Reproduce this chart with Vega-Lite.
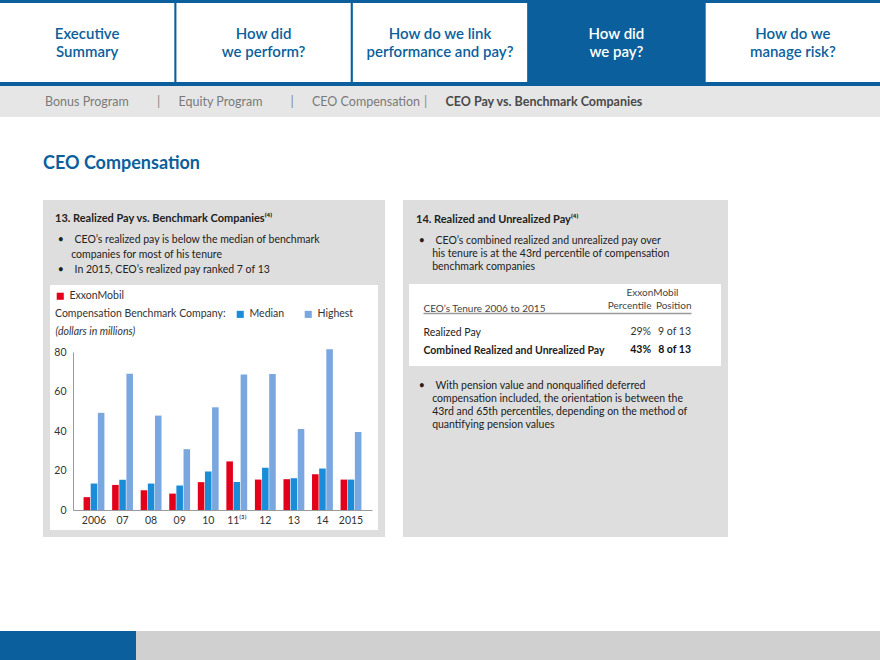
{
 "$schema": "https://vega.github.io/schema/vega-lite/v6.json",
 "background": "#ffffff",
 "padding": 0,
 "spacing": 0,
 "config": {
  "font": "Lato",
  "view": {"stroke": null},
  "concat": {"spacing": 0},
  "title": {"font": "Lato", "color": "#222222", "subtitleFont": "Lato", "subtitleColor": "#222222"},
  "axis": {"labelFont": "Lato", "titleFont": "Lato"},
  "legend": {"labelFont": "Lato", "titleFont": "Lato"}
 },
 "datasets": {
  "tabs": [
   {"tab": "Executive\nSummary", "active": false},
   {"tab": "How did\nwe perform?", "active": false},
   {"tab": "How do we link\nperformance and pay?", "active": false},
   {"tab": "How did\nwe pay?", "active": true},
   {"tab": "How do we\nmanage risk?", "active": false}
  ],
  "subnav": [
   {"item": "Bonus Program", "current": false},
   {"item": "Equity Program", "current": false},
   {"item": "CEO Compensation", "current": false},
   {"item": "CEO Pay vs. Benchmark Companies", "current": true}
  ],
  "pay": [
   {"year": 2006, "series": "ExxonMobil", "value": 6.5},
   {"year": 2006, "series": "Median", "value": 13.4},
   {"year": 2006, "series": "Highest", "value": 49.2},
   {"year": 2007, "series": "ExxonMobil", "value": 12.7},
   {"year": 2007, "series": "Median", "value": 15.3},
   {"year": 2007, "series": "Highest", "value": 69.0},
   {"year": 2008, "series": "ExxonMobil", "value": 10.0},
   {"year": 2008, "series": "Median", "value": 13.4},
   {"year": 2008, "series": "Highest", "value": 47.8},
   {"year": 2009, "series": "ExxonMobil", "value": 8.3},
   {"year": 2009, "series": "Median", "value": 12.4},
   {"year": 2009, "series": "Highest", "value": 30.8},
   {"year": 2010, "series": "ExxonMobil", "value": 14.1},
   {"year": 2010, "series": "Median", "value": 19.5},
   {"year": 2010, "series": "Highest", "value": 52.0},
   {"year": 2011, "series": "ExxonMobil", "value": 24.6},
   {"year": 2011, "series": "Median", "value": 14.2},
   {"year": 2011, "series": "Highest", "value": 68.6},
   {"year": 2012, "series": "ExxonMobil", "value": 15.4},
   {"year": 2012, "series": "Median", "value": 21.4},
   {"year": 2012, "series": "Highest", "value": 68.8},
   {"year": 2013, "series": "ExxonMobil", "value": 15.6},
   {"year": 2013, "series": "Median", "value": 16.1},
   {"year": 2013, "series": "Highest", "value": 41.0},
   {"year": 2014, "series": "ExxonMobil", "value": 18.1},
   {"year": 2014, "series": "Median", "value": 21.0},
   {"year": 2014, "series": "Highest", "value": 81.4},
   {"year": 2015, "series": "ExxonMobil", "value": 15.4},
   {"year": 2015, "series": "Median", "value": 15.4},
   {"year": 2015, "series": "Highest", "value": 39.5}
  ],
  "table": [
   {"measure": "Realized Pay", "column": "Percentile", "value": "29%", "combined": false},
   {"measure": "Realized Pay", "column": "Position", "value": "9 of 13", "combined": false},
   {"measure": "Combined Realized and Unrealized Pay", "column": "Percentile", "value": "43%", "combined": true},
   {"measure": "Combined Realized and Unrealized Pay", "column": "Position", "value": "8 of 13", "combined": true}
  ]
 },
 "vconcat": [
  {"width": 880, "height": 3, "view": {"fill": "#0b5f9c"}, "data": {"values": []}, "mark": "rect"},
  {
   "width": 880, "height": 79,
   "view": {"fill": "#0b5f9c"},
   "data": {"name": "tabs"},
   "encoding": {"x": {"field": "tab", "type": "nominal", "sort": null, "axis": null, "scale": {"paddingInner": 0.012, "paddingOuter": 0}}},
   "layer": [
    {"mark": {"type": "rect"}, "encoding": {"color": {"condition": {"test": "datum.active", "value": "#0b5f9c"}, "value": "#ffffff"}}},
    {"mark": {"type": "text", "lineBreak": "\n", "fontSize": 15, "fontWeight": 600, "lineHeight": 18, "baseline": "middle", "dy": -9},
     "encoding": {"text": {"field": "tab"}, "color": {"condition": {"test": "datum.active", "value": "#ffffff"}, "value": "#0b5f9c"}}}
   ]
  },
  {"width": 880, "height": 4, "view": {"fill": "#0b5f9c"}, "data": {"values": []}, "mark": "rect"},
  {
   "width": 880, "height": 31,
   "view": {"fill": "#e6e6e6"},
   "data": {"name": "subnav"},
   "encoding": {"x": {"field": "item", "type": "nominal", "sort": null, "axis": null, "scale": {"range": [-21.75, 512.25], "paddingInner": 0, "paddingOuter": 0}}},
   "layer": [
    {"transform": [{"filter": "!datum.current"}], "mark": {"type": "text", "align": "left", "baseline": "middle", "fontSize": 12.5, "color": "#7a7a7a"}, "encoding": {"text": {"field": "item"}}},
    {"transform": [{"filter": "datum.current"}], "mark": {"type": "text", "align": "left", "baseline": "middle", "fontSize": 12.5, "fontWeight": "bold", "color": "#4a4a4a"}, "encoding": {"text": {"field": "item"}}},
    {"transform": [{"filter": "datum.item != 'Bonus Program'"}], "mark": {"type": "text", "align": "center", "baseline": "middle", "fontSize": 13, "dx": -20, "color": "#8a8a8a"}, "encoding": {"text": {"value": "|"}}}
   ]
  },
  {"width": 880, "height": 38, "data": {"values": []}, "mark": "rect"},
  {
   "title": {"text": "CEO Compensation", "anchor": "start", "dx": 43, "fontSize": 18, "fontWeight": "bold", "color": "#0b5f9c", "offset": 27, "baseline": "top"},
   "spacing": 18,
   "hconcat": [
    {"width": 25, "height": 1, "data": {"values": []}, "mark": "rect"},
    {
     "spacing": 0,
     "vconcat": [
      {
       "width": 342, "height": 85, "view": {"fill": "#dedede"}, "data": {"values": []}, "mark": "rect",
       "title": {
        "text": "13. Realized Pay vs. Benchmark Companies⁽⁴⁾",
        "subtitle": [
         "\u200b\u00a0•\u00a0\u00a0\u00a0\u00a0CEO’s realized pay is below the median of benchmark",
         "\u200b\u00a0\u00a0\u00a0\u00a0\u00a0\u00a0companies for most of his tenure",
         "\u200b\u00a0•\u00a0\u00a0\u00a0\u00a0In 2015, CEO’s realized pay ranked 7 of 13"
        ],
        "anchor": "start", "dx": 12, "offset": -75, "fontSize": 11, "fontWeight": "bold",
        "subtitleFontSize": 10.5, "subtitlePadding": 11, "subtitleLineHeight": 15
       }
      },
      {
       "spacing": 0,
       "hconcat": [
        {"width": 7, "height": 245, "view": {"fill": "#dedede"}, "data": {"values": []}, "mark": "rect"},
        {
         "width": 328, "height": 245,
         "view": {"fill": "#ffffff"},
         "data": {"name": "pay"},
         "encoding": {
          "x": {"field": "year", "type": "ordinal",
           "scale": {"range": [23, 322], "paddingInner": 0.27, "paddingOuter": 0.37},
           "axis": {"orient": "bottom", "offset": -20, "ticks": false, "labelPadding": 5, "domainColor": "#9a9a9a", "labelAngle": 0, "title": null, "labelFontSize": 10.5, "labelColor": "#333333",
            "labelExpr": "datum.value == 2011 ? '11⁽³⁾' : ((datum.value == 2006 || datum.value == 2015) ? datum.label : substring(datum.label, 2))"}},
          "xOffset": {"field": "series", "type": "nominal", "scale": {"domain": ["ExxonMobil", "Median", "Highest"], "paddingInner": 0.08}},
          "y": {"field": "value", "type": "quantitative",
           "scale": {"domain": [0, 80], "nice": false, "range": [225, 67]},
           "axis": {"values": [0, 20, 40, 60, 80], "offset": -23, "ticks": false, "labelPadding": 7, "domainColor": "#9a9a9a", "grid": false, "labelColor": "#333333", "labelFontSize": 10.5,
            "title": "(dollars in millions)", "titleAngle": 0, "titleAlign": "left", "titleBaseline": "middle", "titleX": -18, "titleY": 46, "titleFontStyle": "italic", "titleFontWeight": "normal", "titleFontSize": 10.5, "titleColor": "#333333"}}
         },
         "layer": [
          {"transform": [{"filter": "datum.series == 'ExxonMobil'"}], "mark": "bar",
           "encoding": {"color": {"field": "series", "type": "nominal", "scale": {"domain": ["ExxonMobil"], "range": ["#e3001b"]},
            "legend": {"title": null, "orient": "none", "legendX": 5, "legendY": 6, "symbolType": "square", "symbolSize": 50, "symbolStrokeWidth": 0, "labelFontSize": 10.5, "labelColor": "#333333", "labelOffset": 4, "padding": 0}}}},
          {"transform": [{"filter": "datum.series != 'ExxonMobil'"}], "mark": "bar",
           "encoding": {"color": {"field": "series", "type": "nominal", "scale": {"domain": ["Median", "Highest"], "range": ["#1a8cd8", "#7aa7e0"]},
            "legend": {"title": "Compensation Benchmark Company:", "orient": "none", "legendX": 5, "legendY": 24, "direction": "horizontal", "titleOrient": "left", "titleFontWeight": "normal", "titleFontSize": 10.5, "titleColor": "#333333", "titlePadding": 9, "symbolType": "square", "symbolSize": 50, "symbolStrokeWidth": 0, "columnPadding": 18, "labelOffset": 4, "labelFontSize": 10.5, "labelColor": "#333333", "padding": 0}}}}
         ],
         "resolve": {"scale": {"color": "independent"}, "legend": {"color": "independent"}}
        },
        {"width": 7, "height": 245, "view": {"fill": "#dedede"}, "data": {"values": []}, "mark": "rect"}
       ]
      },
      {"width": 342, "height": 7, "view": {"fill": "#dedede"}, "data": {"values": []}, "mark": "rect"}
     ]
    },
    {
     "spacing": 0,
     "vconcat": [
      {
       "width": 325, "height": 84, "view": {"fill": "#dedede"}, "data": {"values": []}, "mark": "rect",
       "title": {
        "text": "14. Realized and Unrealized Pay⁽⁴⁾",
        "subtitle": [
         "\u200b\u00a0•\u00a0\u00a0\u00a0\u00a0CEO’s combined realized and unrealized pay over",
         "\u200b\u00a0\u00a0\u00a0\u00a0\u00a0\u00a0his tenure is at the 43rd percentile of compensation",
         "\u200b\u00a0\u00a0\u00a0\u00a0\u00a0\u00a0benchmark companies"
        ],
        "anchor": "start", "dx": 13, "offset": -72, "fontSize": 11, "fontWeight": "bold",
        "subtitleFontSize": 10.5, "subtitlePadding": 11, "subtitleLineHeight": 13
       }
      },
      {
       "spacing": 0,
       "hconcat": [
        {"width": 6, "height": 82, "view": {"fill": "#dedede"}, "data": {"values": []}, "mark": "rect"},
        {
         "width": 312, "height": 82,
         "view": {"fill": "#ffffff"},
         "data": {"name": "table"},
         "encoding": {
          "y": {"field": "measure", "type": "nominal",
           "scale": {"type": "point", "domain": ["Realized Pay", "Combined Realized and Unrealized Pay"], "range": [48, 66], "padding": 0},
           "axis": {"orient": "left", "offset": -14, "ticks": false, "domain": false, "labelAlign": "left", "labelBaseline": "middle", "labelPadding": 0, "labelLimit": 300, "labelFontSize": 10.5, "labelColor": "#222222",
            "labelFontWeight": {"condition": {"test": "datum.value == 'Combined Realized and Unrealized Pay'", "value": "bold"}, "value": "normal"},
            "title": "CEO’s Tenure 2006 to 2015", "titleAngle": 0, "titleAlign": "left", "titleBaseline": "middle", "titleX": 0, "titleY": 24, "titleFontWeight": "normal", "titleFontSize": 10, "titleColor": "#444444"}}
         },
         "layer": [
          {
           "encoding": {
            "x": {"field": "column", "type": "nominal",
             "scale": {"type": "point", "domain": ["Percentile", "Position"], "range": [242, 282], "padding": 0},
             "axis": {"orient": "top", "offset": -29, "ticks": false, "domain": false, "labelPadding": 3, "labelAlign": "right", "labelAngle": 0, "labelFontSize": 10, "labelColor": "#444444",
              "title": "ExxonMobil", "titleX": 243, "titleY": -16, "titleAlign": "center", "titleBaseline": "bottom", "titleFontWeight": "normal", "titleFontSize": 10, "titleColor": "#444444"}},
            "text": {"field": "value"}
           },
           "layer": [
            {"transform": [{"filter": "!datum.combined"}], "mark": {"type": "text", "align": "right", "baseline": "middle", "fontSize": 10.5, "color": "#333333"}},
            {"transform": [{"filter": "datum.combined"}], "mark": {"type": "text", "align": "right", "baseline": "middle", "fontSize": 10.5, "fontWeight": "bold", "color": "#111111"}}
           ]
          },
          {
           "mark": {"type": "point", "opacity": 0},
           "encoding": {
            "x": {"field": "column", "type": "nominal",
             "scale": {"type": "point", "domain": ["Percentile", "Position"], "range": [14, 282], "padding": 0},
             "axis": {"orient": "top", "offset": -29, "ticks": false, "labels": false, "title": null, "domain": true, "domainColor": "#9a9a9a", "domainWidth": 1.5}}
           }
          }
         ],
         "resolve": {"scale": {"x": "independent"}, "axis": {"x": "independent"}}
        },
        {"width": 7, "height": 82, "view": {"fill": "#dedede"}, "data": {"values": []}, "mark": "rect"}
       ]
      },
      {
       "width": 325, "height": 171, "view": {"fill": "#dedede"}, "data": {"values": []}, "mark": "rect",
       "title": {
        "text": "\u200b\u00a0•\u00a0\u00a0\u00a0\u00a0With pension value and nonqualified deferred",
        "subtitle": [
         "\u200b\u00a0\u00a0\u00a0\u00a0\u00a0\u00a0compensation included, the orientation is between the",
         "\u200b\u00a0\u00a0\u00a0\u00a0\u00a0\u00a043rd and 65th percentiles, depending on the method of",
         "\u200b\u00a0\u00a0\u00a0\u00a0\u00a0\u00a0quantifying pension values"
        ],
        "anchor": "start", "dx": 13, "offset": -64, "fontSize": 10.5, "fontWeight": "normal",
        "subtitleFontSize": 10.5, "subtitlePadding": 2, "subtitleLineHeight": 13
       }
      }
     ]
    }
   ]
  },
  {"width": 880, "height": 94, "data": {"values": []}, "mark": "rect"},
  {
   "spacing": 0,
   "hconcat": [
    {"width": 136, "height": 29, "view": {"fill": "#0b5f9c"}, "data": {"values": []}, "mark": "rect"},
    {"width": 744, "height": 29, "view": {"fill": "#d0d0d0"}, "data": {"values": []}, "mark": "rect"}
   ]
  }
 ]
}
